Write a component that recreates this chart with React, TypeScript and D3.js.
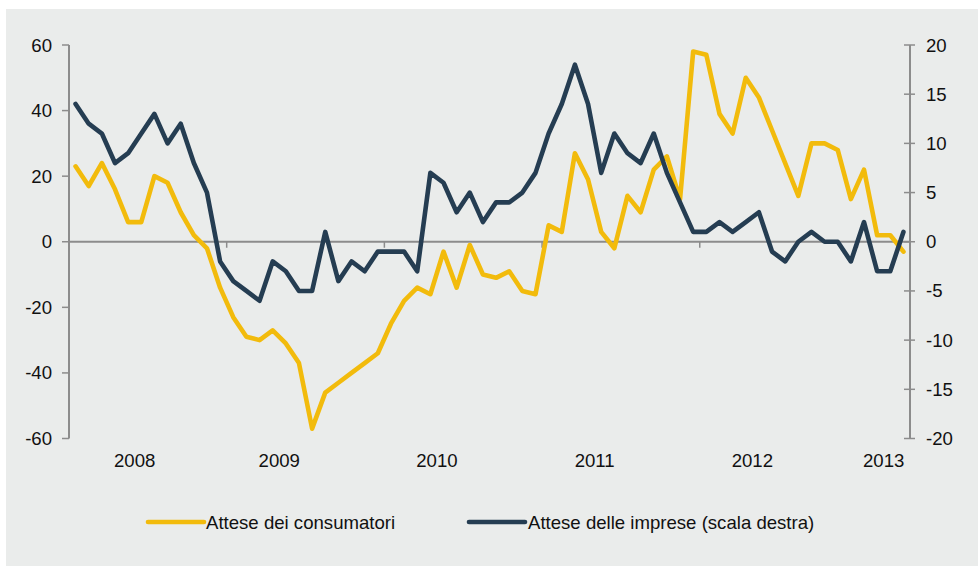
import React from "react";
import * as d3 from "d3";

// Monthly data, 64 observations
const consumatori: number[] = [
  23, 17, 24, 16, 6, 6, 20, 18, 9, 2, -2, -14, -23, -29, -30, -27, -31, -37, -57, -46,
  -43, -40, -37, -34, -25, -18, -14, -16, -3, -14, -1, -10, -11, -9, -15, -16,
  5, 3, 27, 19, 3, -2, 14, 9, 22, 26, 13, 58, 57, 39, 33, 50, 44, 34, 24, 14, 30, 30, 28, 13, 22, 2, 2, -3,
];
const imprese: number[] = [
  14, 12, 11, 8, 9, 11, 13, 10, 12, 8, 5, -2, -4, -5, -6, -2, -3, -5, -5, 1,
  -4, -2, -3, -1, -1, -1, -3, 7, 6, 3, 5, 2, 4, 4, 5, 7, 11, 14, 18, 14, 7, 11, 9,
  8, 11, 7, 4, 1, 1, 2, 1, 2, 3, -1, -2, 0, 1, 0, 0, -2, 2, -3, -3, 1,
];
const yearLabels: string[] = ["2008", "2009", "2010", "2011", "2012", "2013"];
const yearLabelPos: number[] = [5, 16, 28, 40, 52, 62];
const xTickPos: number[] = [12, 24, 36, 48, 60];
const leftTicks: number[] = [60, 40, 20, 0, -20, -40, -60];
const rightTicks: number[] = [20, 15, 10, 5, 0, -5, -10, -15, -20];
const legendLabels: string[] = ["Attese dei consumatori", "Attese delle imprese (scala destra)"];

const W = 978;
const H = 566;
const YELLOW = "#F2BB0C";
const NAVY = "#253D52";
const AXIS = "#8C8C8C";
const TEXT = "#111111";
const FONT = "'Liberation Sans', Arial, sans-serif";
const FS = 18.6;

export default function App() {
  const n = consumatori.length;
  const x = d3.scaleLinear().domain([0, n]).range([69, 910]);
  const yL = d3.scaleLinear().domain([-60, 60]).range([438.5, 45]);
  const yR = d3.scaleLinear().domain([-20, 20]).range([438.5, 45]);

  const lineL = d3
    .line<number>()
    .x((_, i) => x(i + 0.5))
    .y((d) => yL(d));
  const lineR = d3
    .line<number>()
    .x((_, i) => x(i + 0.5))
    .y((d) => yR(d));

  const legendItems = [
    { label: legendLabels[0], color: YELLOW, x1: 148, x2: 204, tx: 206 },
    { label: legendLabels[1], color: NAVY, x1: 469, x2: 525, tx: 528 },
  ];

  return (
    <svg
      width={W}
      height={H}
      style={{ position: "absolute", left: 0, top: 0, fontFamily: FONT }}
    >
      <rect x={0} y={0} width={W} height={H} fill="#ffffff" />
      <rect x={6} y={9} width={W - 6} height={H - 9} fill="#EAECEB" />

      {/* left axis */}
      <line x1={69} x2={69} y1={yL(60)} y2={yL(-60)} stroke={AXIS} strokeWidth={2} />
      {leftTicks.map((t) => (
        <g key={"l" + t}>
          <line x1={62} x2={69} y1={yL(t)} y2={yL(t)} stroke={AXIS} strokeWidth={1.5} />
          <text x={52} y={yL(t)} dy="0.35em" textAnchor="end" fontSize={FS} fill={TEXT}>
            {t}
          </text>
        </g>
      ))}

      {/* right axis */}
      <line x1={910} x2={910} y1={yR(20)} y2={yR(-20)} stroke={AXIS} strokeWidth={2} />
      {rightTicks.map((t) => (
        <g key={"r" + t}>
          <line x1={904} x2={915} y1={yR(t)} y2={yR(t)} stroke={AXIS} strokeWidth={1.5} />
          <text x={926} y={yR(t)} dy="0.35em" textAnchor="start" fontSize={FS} fill={TEXT}>
            {t}
          </text>
        </g>
      ))}

      {/* x axis at zero */}
      <line x1={69} x2={910} y1={yL(0)} y2={yL(0)} stroke={AXIS} strokeWidth={2} />
      {xTickPos.map((p) => (
        <line key={"xt" + p} x1={x(p)} x2={x(p)} y1={yL(0)} y2={yL(0) + 6} stroke={AXIS} strokeWidth={1.5} />
      ))}
      {yearLabels.map((lab, i) => (
        <text key={lab} x={x(yearLabelPos[i])} y={466.5} textAnchor="middle" fontSize={FS} fill={TEXT}>
          {lab}
        </text>
      ))}

      {/* series */}
      <path d={lineL(consumatori) || ""} fill="none" stroke={YELLOW} strokeWidth={4.6} strokeLinejoin="round" strokeLinecap="round" />
      <path d={lineR(imprese) || ""} fill="none" stroke={NAVY} strokeWidth={4.6} strokeLinejoin="round" strokeLinecap="round" />

      {/* legend */}
      {legendItems.map((it) => (
        <g key={it.label}>
          <line x1={it.x1} x2={it.x2} y1={522} y2={522} stroke={it.color} strokeWidth={4.6} strokeLinecap="round" />
          <text x={it.tx} y={528.5} fontSize={FS} fill={TEXT}>
            {it.label}
          </text>
        </g>
      ))}
    </svg>
  );
}
